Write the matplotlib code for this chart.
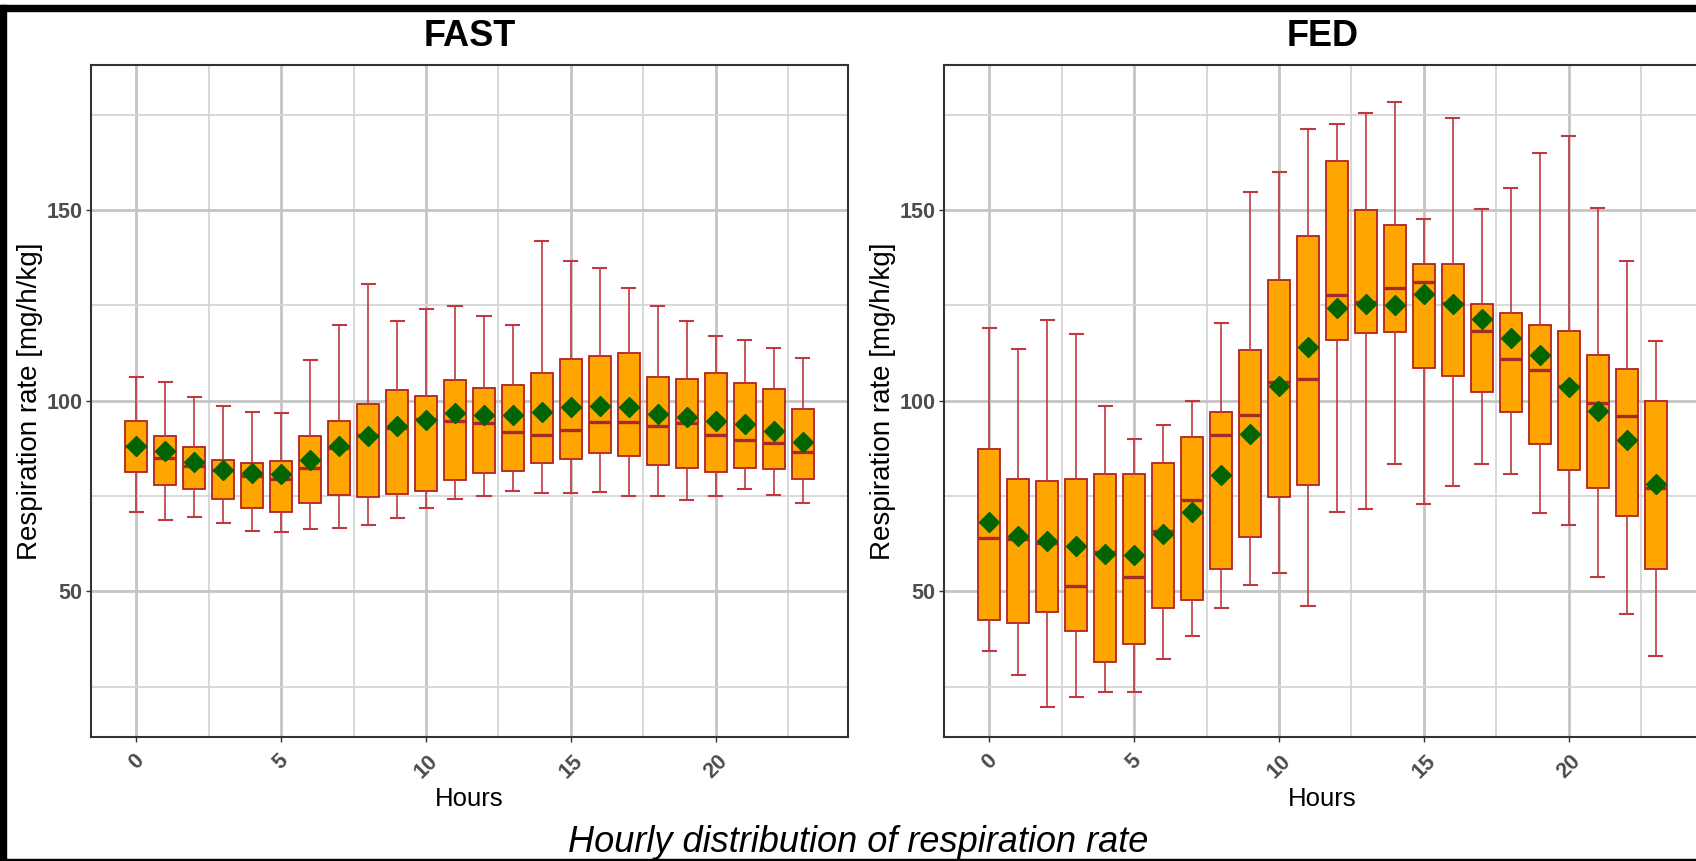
import matplotlib
matplotlib.use("Agg")
import matplotlib.pyplot as plt
from matplotlib.patches import Rectangle
from matplotlib.ticker import MultipleLocator

plt.rcParams['font.family'] = ['Liberation Sans', 'DejaVu Sans']

hours = list(range(24))

# FAST: whisker low, Q1, median, Q3, whisker high, mean
fast_low = [70.8, 68.7, 69.4, 68.0, 65.9, 65.6, 66.3, 66.6, 67.3, 69.2, 71.9, 74.3,
            75.0, 76.4, 75.7, 75.7, 76.1, 75.0, 75.0, 74.0, 75.0, 76.8, 75.4, 73.3]
fast_q1 = [81.4, 77.8, 76.8, 74.3, 72.0, 70.9, 73.3, 75.4, 74.7, 75.5, 76.3, 79.2,
           81.0, 81.7, 83.7, 84.8, 86.2, 85.5, 83.1, 82.4, 81.3, 82.4, 82.0, 79.5]
fast_med = [88.2, 85.1, 83.0, 81.9, 80.2, 79.5, 82.3, 87.5, 91.0, 92.8, 95.2, 94.8,
            94.2, 91.7, 91.0, 92.4, 94.5, 94.5, 93.5, 94.2, 91.0, 89.6, 88.9, 86.5]
fast_q3 = [94.6, 90.7, 87.9, 84.5, 83.8, 84.2, 90.7, 94.6, 99.1, 102.7, 101.2, 105.5,
           103.3, 104.1, 107.2, 111.0, 111.8, 112.4, 106.2, 105.8, 107.2, 104.7, 103.0, 97.7]
fast_high = [106.2, 104.8, 101.0, 98.5, 97.1, 96.8, 110.7, 119.8, 130.7, 120.9, 124.0, 124.7,
             122.3, 119.8, 141.9, 136.6, 134.9, 129.6, 124.7, 120.9, 117.0, 116.0, 113.9, 111.1]
fast_mean = [88.2, 86.9, 84.0, 81.9, 81.1, 80.8, 84.4, 88.2, 90.7, 93.4, 94.9, 96.8,
             96.3, 96.3, 97.0, 98.3, 98.7, 98.3, 96.6, 95.6, 94.6, 93.9, 92.1, 89.3]

# FED
fed_low = [34.4, 28.2, 19.8, 22.3, 23.6, 23.6, 32.4, 38.3, 45.7, 51.6, 54.8, 46.1,
           70.9, 71.5, 83.5, 73.0, 77.6, 83.5, 80.7, 70.6, 67.4, 53.8, 44.0, 33.0]
fed_q1 = [42.5, 41.8, 44.6, 39.7, 31.4, 36.2, 45.6, 47.8, 55.8, 64.2, 74.7, 77.8,
          116.0, 117.7, 118.1, 108.7, 106.5, 102.3, 97.1, 88.7, 81.8, 77.1, 69.8, 55.8]
fed_med = [64.1, 63.7, 62.6, 51.5, 60.4, 53.9, 65.8, 73.9, 91.0, 96.3, 105.0, 105.7,
           127.7, 126.0, 129.5, 131.2, 125.7, 118.3, 110.9, 108.1, 103.9, 99.4, 95.9, 77.0]
fed_q3 = [87.3, 79.6, 79.0, 79.6, 80.7, 80.7, 83.7, 90.5, 97.1, 113.2, 131.7, 143.2,
          162.8, 149.9, 146.1, 135.9, 135.9, 125.3, 122.9, 119.8, 118.4, 112.1, 108.2, 99.8]
fed_high = [119.1, 113.6, 121.2, 117.4, 98.5, 90.0, 93.6, 100.0, 120.3, 154.7, 160.0, 171.3,
            172.6, 175.4, 178.2, 147.6, 174.1, 150.2, 155.8, 164.9, 169.5, 150.6, 136.6, 115.6]
fed_mean = [68.2, 64.6, 63.3, 61.9, 59.8, 59.5, 65.0, 70.9, 80.4, 91.3, 103.9, 114.1,
            124.2, 125.3, 125.1, 128.1, 125.3, 121.4, 116.5, 112.0, 103.6, 97.3, 89.6, 78.1]

panels = [
    ("FAST", fast_low, fast_q1, fast_med, fast_q3, fast_high, fast_mean),
    ("FED", fed_low, fed_q1, fed_med, fed_q3, fed_high, fed_mean),
]

W, H = 1696, 861
fig = plt.figure(figsize=(W / 100, H / 100), dpi=100)

# axes boxes in pixels: left, top, width, height
boxes = [(91, 65, 757, 672), (944, 65, 757, 672)]

for (title, lo, q1, med, q3, hi, mn), (x0, y0, w, h) in zip(panels, boxes):
    ax = fig.add_axes([x0 / W, 1 - (y0 + h) / H, w / W, h / H])
    stats = []
    for i in range(len(hours)):
        stats.append(dict(whislo=lo[i], q1=q1[i], med=med[i], q3=q3[i],
                          whishi=hi[i], mean=mn[i], fliers=[]))
    ax.bxp(stats, positions=hours, widths=0.75, capwidths=0.45,
           patch_artist=True, showmeans=True, manage_ticks=False,
           boxprops=dict(facecolor='#FFA500', edgecolor='#B22222', linewidth=1.3),
           medianprops=dict(color='#A52A2A', linewidth=2.4),
           whiskerprops=dict(color='#C0393F', linewidth=1.2),
           capprops=dict(color='#C0393F', linewidth=1.5),
           meanprops=dict(marker='D', markerfacecolor='#006400',
                          markeredgecolor='#006400', markersize=10.5))

    ax.set_xlim(-1.56, 24.56)
    ax.set_ylim(11.85, 188.0)
    ax.xaxis.set_major_locator(MultipleLocator(5))
    ax.xaxis.set_minor_locator(MultipleLocator(2.5))
    ax.yaxis.set_major_locator(MultipleLocator(50))
    ax.yaxis.set_minor_locator(MultipleLocator(25))
    ax.set_axisbelow(True)
    ax.grid(which='major', color='#C4C4C4', linewidth=2.0)
    ax.grid(which='minor', color='#D6D6D6', linewidth=1.3)

    for s in ax.spines.values():
        s.set_color('#333333')
        s.set_linewidth(1.5)

    ax.tick_params(which='minor', length=0)
    ax.tick_params(which='major', length=3.6, width=1.0, color='#333333',
                   labelsize=15.5, labelcolor='#4D4D4D')
    ax.tick_params(axis='y', pad=2.5)
    ax.tick_params(axis='x', pad=6)
    for lab in ax.get_yticklabels():
        lab.set_fontweight('bold')
    for lab in ax.get_xticklabels():
        lab.set_fontweight('bold')
        lab.set_rotation(45)
        lab.set_ha('center')
        lab.set_va('top')

    ax.set_title(title, fontsize=26, fontweight='bold', pad=14)
    ax.set_xlabel("Hours", fontsize=18.5)
    ax.set_ylabel("Respiration rate [mg/h/kg]", fontsize=20)
    ax.xaxis.set_label_coords(0.5, -0.074)
    ax.yaxis.set_label_coords(-0.063, 0.5)

fig.text(858 / W, 1 - 852 / H, "Hourly distribution of respiration rate",
         fontsize=26, style='italic', ha='center', va='baseline')

# black frame around the screenshot
fig.patches.append(Rectangle((0, 1 - 11 / H), 1, 6 / H, transform=fig.transFigure,
                             color='black', zorder=10))
fig.patches.append(Rectangle((0, 0), 6 / W, 1 - 5 / H, transform=fig.transFigure,
                             color='black', zorder=10))
fig.patches.append(Rectangle((0, 0), 1, 2 / H, transform=fig.transFigure,
                             color='black', zorder=10))

fig.savefig("out.png", dpi=100)
